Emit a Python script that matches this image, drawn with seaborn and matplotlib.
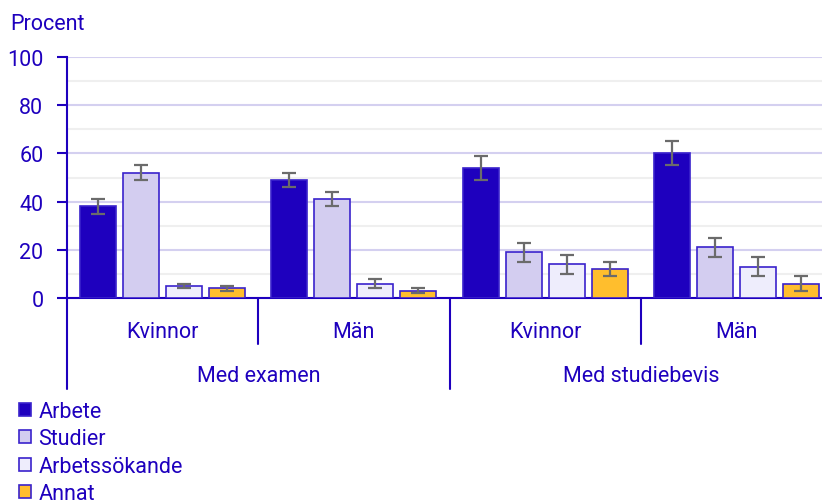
import matplotlib
matplotlib.use("Agg")
import matplotlib.pyplot as plt
from matplotlib.patches import Patch
import seaborn as sns
import pandas as pd

# ---- data ----
outer = ["Med examen", "Med studiebevis"]
inner = ["Kvinnor", "Män"]
series = ["Arbete", "Studier", "Arbetssökande", "Annat"]
arbete = [38, 49, 54, 60]
studier = [52, 41, 19, 21]
arbetssokande = [5, 6, 14, 13]
annat = [4, 3, 12, 6]
arbete_err = [3, 3, 5, 5]
studier_err = [3, 3, 4, 4]
arbetssokande_err = [1, 2, 4, 4]
annat_err = [1, 1, 3, 3]

values = [arbete, studier, arbetssokande, annat]
errors = [arbete_err, studier_err, arbetssokande_err, annat_err]
colors = ["#1e00be", "#d3cdf0", "#eeedfc", "#ffbe2d"]
text_c = "#1e00be"

groups = [f"{o} | {i}" for o in outer for i in inner]
rows = []
for s, vals in zip(series, values):
    for g, v in zip(groups, vals):
        rows.append({"grupp": g, "serie": s, "value": v})
df = pd.DataFrame(rows)

sns.set_theme(style="white")
plt.rcParams["font.family"] = ["Roboto", "DejaVu Sans"]

fig = plt.figure(figsize=(8.22, 5.02), dpi=100)
W, H = 822, 502
ax_left, ax_right, ax_top, ax_bot = 67, 832, 58, 299
ax = fig.add_axes([ax_left / W, (H - ax_bot) / H, (ax_right - ax_left) / W, (ax_bot - ax_top) / H])

sns.barplot(data=df, x="grupp", y="value", hue="serie", order=groups, hue_order=series,
            palette=colors, saturation=1, width=0.9, gap=0.16, edgecolor="#3a22cc",
            linewidth=1.2, errorbar=None, legend=False, ax=ax, zorder=3)

for cont, errs in zip(ax.containers, errors):
    xs = [p.get_x() + p.get_width() / 2 for p in cont.patches]
    ys = [p.get_height() for p in cont.patches]
    ax.errorbar(xs, ys, yerr=errs, fmt="none", ecolor="#6b6b6b", elinewidth=1.6,
                capsize=5, capthick=1.6, zorder=4)

ax.set_ylim(0, 100)
ax.set_xlim(-0.5, 3.5)
ax.set_yticks([0, 20, 40, 60, 80, 100])
ax.set_yticks([10, 30, 50, 70, 90], minor=True)
ax.yaxis.grid(True, which="major", color="#d4d0f0", lw=1.5, zorder=0)
ax.yaxis.grid(True, which="minor", color="#efefef", lw=1.5, zorder=0)
ax.set_axisbelow(True)
ax.tick_params(axis="y", which="major", length=7, width=1.5, color=text_c,
               labelsize=15.5, labelcolor=text_c, pad=10, left=True)
ax.tick_params(axis="y", which="minor", length=0)
ax.set_xticks([])
ax.set_xlabel("")
ax.set_ylabel("")
for s in ["top", "right"]:
    ax.spines[s].set_visible(False)
for s in ["left", "bottom"]:
    ax.spines[s].set_color(text_c)
    ax.spines[s].set_linewidth(1.5)

ah = ax_bot - ax_top
trans = ax.get_xaxis_transform()
short = -46 / ah
long_ = -91 / ah
for x, y1 in [(-0.5, long_), (0.5, short), (1.5, long_), (2.5, short)]:
    ax.plot([x, x], [0, y1], color=text_c, lw=1.5, transform=trans, clip_on=False)

for i, g in enumerate(groups):
    ax.text(i, -33 / ah, g.split(" | ")[1], transform=trans, ha="center", va="center",
            fontsize=15.5, color=text_c)
for j, o in enumerate(outer):
    ax.text(0.5 + 2 * j, -78 / ah, o, transform=trans, ha="center", va="center",
            fontsize=15.5, color=text_c)

fig.text(10 / W, 1 - 24 / H, "Procent", ha="left", va="center", fontsize=15.5, color=text_c)

handles = [Patch(facecolor=c, edgecolor="#3a22cc", linewidth=1.2) for c in colors]
fig.legend(handles, series, loc="upper left", bbox_to_anchor=(19 / W, 1 - 402 / H),
           frameon=False, fontsize=15.5, labelcolor=text_c, handlelength=0.55,
           handleheight=0.55, handletextpad=0.35, labelspacing=0.3, borderpad=0,
           borderaxespad=0)

fig.savefig("out.png", dpi=100)
